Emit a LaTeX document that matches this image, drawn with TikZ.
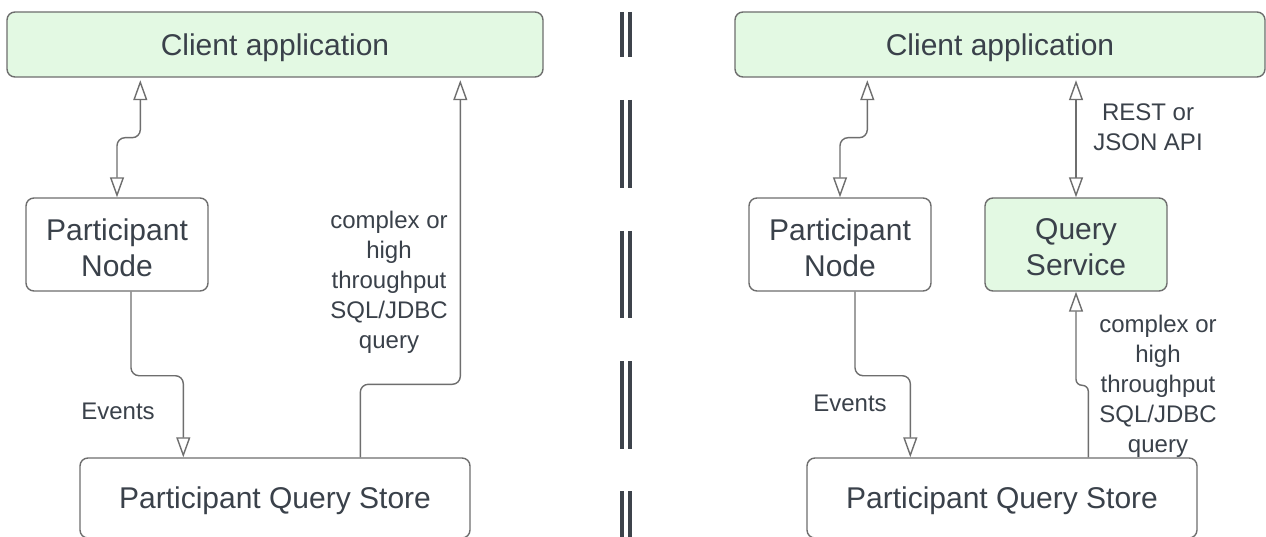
\documentclass[tikz,border=0pt]{standalone}
\usepackage{fontspec}
\setmainfont{Liberation Sans}
\usetikzlibrary{arrows.meta}
\definecolor{txt}{HTML}{3A414A}
\definecolor{bord}{HTML}{6E6E6E}
\definecolor{lgreen}{HTML}{E3F9E3}
\definecolor{divc}{HTML}{3D434B}
\tikzset{
  box/.style={draw=bord, line width=1.4pt, rounded corners=8pt, fill=white, inner sep=0pt},
  gbox/.style={box, fill=lgreen},
  boxtxt/.style={text=txt, inner sep=0pt, align=center, yshift=-3pt, font=\fontsize{30}{36}\selectfont},
  conn/.style={draw=bord, line width=1.4pt, rounded corners=8pt},
  tip/.style={-{Triangle[open, length=20pt, width=14pt, line width=1.4pt]}},
  dtip/.style={{Triangle[open, length=20pt, width=14pt, line width=1.4pt]}-{Triangle[open, length=20pt, width=14pt, line width=1.4pt]}},
  lbl/.style={text=txt, align=center, inner sep=0pt, font=\fontsize{24}{30}\selectfont},
  divline/.style={draw=divc, line width=4pt}
}
\begin{document}
\begin{tikzpicture}[x=1pt, y=-1pt]
\useasboundingbox (0,0) rectangle (1266,537);
\clip (0,0) rectangle (1266,537);
\fill[white] (0,0) rectangle (1266,537);

% ---------- left ----------
\node[gbox, minimum width=536pt, minimum height=65pt, label={[boxtxt]center:Client application}] (ca1) at (275,44.5) {};
\node[box, minimum width=182pt, minimum height=93pt, label={[boxtxt]center:Participant\\Node}] (pn1) at (117,244.5) {};
\node[box, minimum width=390pt, minimum height=80pt, label={[boxtxt]center:Participant Query Store}] (qs1) at (275,498) {};

\draw[conn, dtip, shorten <=2.5pt] ([xshift=134pt]ca1.south west) -- ++(0,60) -| (pn1.north);
\draw[conn, tip] ([xshift=14pt]pn1.south) -- ++(0,84) -| ([xshift=104pt]qs1.north west);
\draw[conn, tip, shorten >=2.5pt] ([xshift=281pt]qs1.north west) -- ++(0,-73) -| ([xshift=454pt]ca1.south west);

\node[lbl] (ev1) at (118,411) {Events};
\node[lbl] (q1) at (389,282.5) {complex or\\high\\throughput\\SQL/JDBC\\query};

% ---------- divider ----------
\foreach \ya/\yb in {12/57,100/188,231/318,361/449,491/545}{
  \draw[divline] (621.5,\ya) -- (621.5,\yb);
  \draw[divline] (629.5,\ya) -- (629.5,\yb);
}

% ---------- right ----------
\node[gbox, minimum width=530pt, minimum height=65pt, label={[boxtxt]center:Client application}] (ca2) at (1000,44.5) {};
\node[box, minimum width=182pt, minimum height=93pt, label={[boxtxt]center:Participant\\Node}] (pn2) at (840,244.5) {};
\node[gbox, minimum width=182pt, minimum height=93pt, label={[boxtxt]center:Query\\Service}] (qsv) at (1076,244.5) {};
\node[box, minimum width=390pt, minimum height=80pt, label={[boxtxt]center:Participant Query Store}] (qs2) at (1002,498) {};

\draw[conn, dtip, shorten <=2.5pt] ([xshift=133pt]ca2.south west) -- ++(0,60) -| (pn2.north);
\draw[conn, dtip, shorten <=2.5pt] (qsv.north |- ca2.south) -- (qsv.north);
\draw[conn, tip] ([xshift=15pt]pn2.south) -- ++(0,84) -| ([xshift=104pt]qs2.north west);
\draw[conn, tip, rounded corners=6pt] ([xshift=282pt]qs2.north west) -- ++(0,-72) -| (qsv.south);

\node[lbl] (rest) at (1148,127.5) {REST or\\JSON API};
\node[lbl] (ev2) at (850,403) {Events};
\node[lbl] (q2) at (1158,386) {complex or\\high\\throughput\\SQL/JDBC\\query};
\end{tikzpicture}
\end{document}
